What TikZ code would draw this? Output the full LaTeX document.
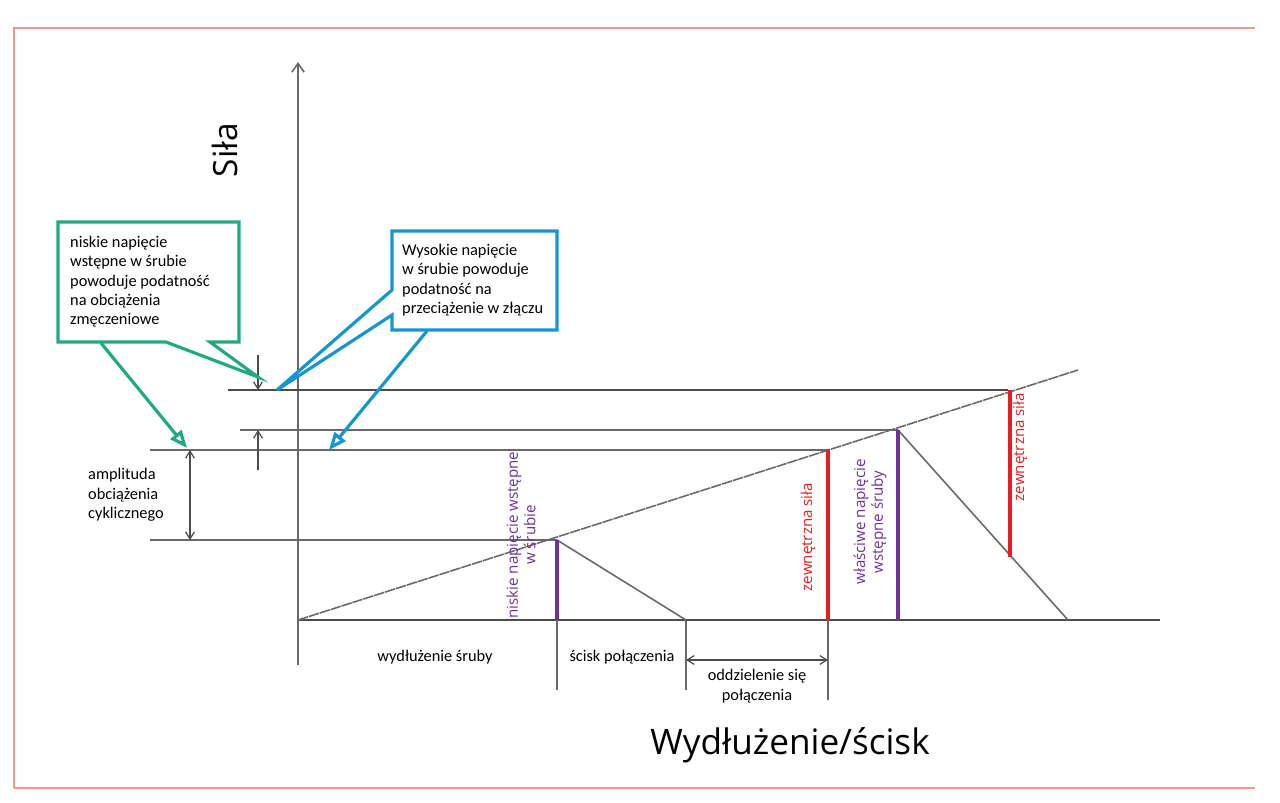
\documentclass[tikz,border=0pt]{standalone}
\usepackage{fontspec}
\setmainfont{Carlito}
\newfontfamily\bigfont{Open Sans}
\usetikzlibrary{arrows.meta,positioning}
\definecolor{callgreen}{RGB}{30,170,130}
\definecolor{callblue}{RGB}{20,150,210}
\definecolor{boltviolet}{RGB}{112,48,160}
\definecolor{forcered}{RGB}{232,30,30}
\definecolor{framered}{RGB}{240,150,140}
\definecolor{linegray}{RGB}{105,105,105}
\begin{document}
\begin{tikzpicture}[x=0.02cm,y=-0.02cm,
  thin line/.style={linegray,line width=0.9pt},
  dark line/.style={black!70,line width=1.4pt},
  dim/.style={<->,>={Straight Barb[length=4pt,width=5pt]},black!70,line width=0.7pt},
  tick/.style={->,>={Straight Barb[length=4pt,width=5pt]},black!70,line width=0.7pt},
  call/.style={line width=1.8pt,fill=white,line join=miter},
  fat arrow/.style={->,>={Triangle[length=10pt,width=8pt,open]},line width=1.8pt},
  small/.style={font=\fontsize{9.3pt}{11pt}\selectfont,align=left},
  vert/.style={rotate=90,font=\bigfont\fontsize{8.6pt}{10pt}\selectfont,align=center},
  bar/.style={line width=2.2pt}]
\useasboundingbox (0,0) rectangle (1280,802);
\draw[framered,line width=0.8pt] (14,788) -- (14,28) -- (1255,28);
\draw[framered,line width=0.8pt] (14,788) -- (1255,788);

% axes
\coordinate (O) at (298,620);
\coordinate (ytop) at (298,62);
\draw[thin line,-{Straight Barb[length=5pt,width=7pt]}] (298,665) -- (ytop);
\draw[dark line] (O) -- (1160,620);
\node[font=\bigfont\fontsize{19pt}{22pt}\selectfont,rotate=90] (ylab) at (225,150) {Siła};
\node[font=\bigfont\fontsize{20pt}{24pt}\selectfont] (xlab) at (790,745) {Wydłużenie/ścisk};

% load line and levels
\coordinate (lowpk) at (557,540);
\coordinate (fitpk) at (898,430);
\draw[thin line,dashed,dash pattern=on 6pt off 0.5pt] (O) -- (1078,370);
\draw[dark line] (228,390) -- (1008,390);
\draw[thin line] (240,430) -- (fitpk);
\draw[thin line] (150,450) -- (828,450);
\draw[thin line] (150,540) -- (lowpk);
\draw[thin line] (lowpk) -- (686,620);
\draw[thin line] (fitpk) -- (1068,620);

% bars
\draw[bar,boltviolet] (lowpk) -- (557,620);
\draw[bar,boltviolet] (fitpk) -- (898,620);
\draw[bar,forcered] (828,450) -- (828,620);
\draw[bar,forcered] (1010,390) -- (1010,557);

\node[vert,text=boltviolet] (lowlab) at (521,535) {niskie napięcie wstępne\\w śrubie};
\node[vert,text=forcered] (red1) at (808,537) {zewnętrzna siła};
\node[vert,text=boltviolet] (fitlab) at (870,522) {właściwe napięcie\\wstępne śruby};
\node[vert,text=forcered] (red2) at (1020,447) {zewnętrzna siła};

% dimensions below axis
\draw[thin line,line width=0.7pt] (557,620) -- (557,690);
\draw[thin line,line width=0.7pt] (686,620) -- (686,690);
\draw[thin line,line width=0.7pt] (828,620) -- (828,700);
\coordinate (sepL) at (686,660);
\coordinate (sepR) at (828,660);
\draw[dim] (sepL) -- (sepR);
\node[small] (bolt) at (435,657) {wydłużenie śruby};
\node[small] (clamp) at (622,657) {ścisk połączenia};
\node[small,align=center] (sep) at (757,686) {oddzielenie się\\połączenia};

% amplitude
\coordinate (ampT) at (190,450);
\coordinate (ampB) at (190,540);
\draw[dim] (ampT) -- (ampB);
\node[small,anchor=west] (amp) at (82,495) {amplituda\\obciążenia\\cyklicznego};
\draw[tick] (258,355) -- (258,390);
\draw[tick] (258,470) -- (258,430);

% callouts
\draw[call,draw=callgreen] (58,222) -- (239,222) -- (239,342) -- (210,342) -- (258,377) -- (166,342) -- (58,342) -- cycle;
\node[small,anchor=north west] (lowbox) at (64,230) {niskie napięcie\\wstępne w śrubie\\powoduje podatność\\na obciążenia\\zmęczeniowe};
\draw[fat arrow,callgreen] (101,343) -- (187,448);

\draw[call,draw=callblue] (392,231) -- (557,231) -- (557,330) -- (392,330) -- (392,315) -- (277,390) -- (392,290) -- cycle;
\node[small,anchor=north west] (highbox) at (396,238) {Wysokie napięcie\\w śrubie powoduje\\podatność na\\przeciążenie w złączu};
\draw[fat arrow,callblue] (427,331) -- (329,450);
\end{tikzpicture}
\end{document}
